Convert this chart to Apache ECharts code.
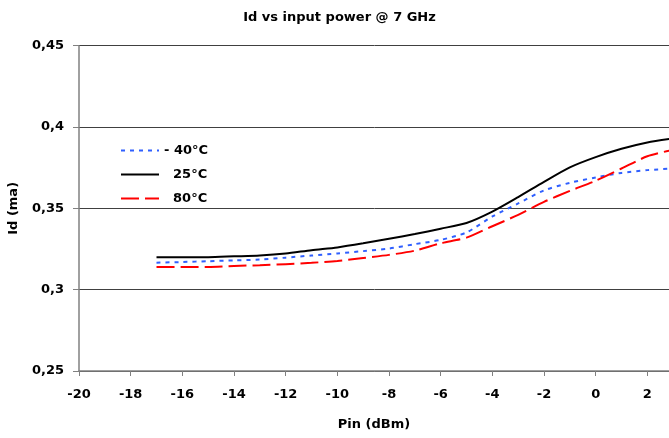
<!DOCTYPE html>
<html>
<head>
<meta charset="utf-8">
<script src="https://cdn.jsdelivr.net/npm/echarts@6/dist/echarts.min.js"></script>
<style>
html,body{margin:0;padding:0;background:#fff;}
#chart{width:669px;height:438px;}
</style>
</head>
<body>
<div id="chart"></div>
<script>
// Data
const pinDbm = [-17, -16, -15, -14, -13, -12, -11, -10, -9, -8, -7, -6, -5, -4, -3, -2, -1, 0, 1, 2, 3];
const idMinus40 = [0.3166, 0.317, 0.3175, 0.318, 0.3185, 0.3197, 0.321, 0.3223, 0.3237, 0.3253, 0.328, 0.3306, 0.3352, 0.345, 0.353, 0.361, 0.3657, 0.369, 0.3718, 0.3735, 0.3745];
const id25 = [0.320, 0.320, 0.320, 0.3205, 0.321, 0.3222, 0.3243, 0.326, 0.3285, 0.3313, 0.3342, 0.3375, 0.341, 0.348, 0.3569, 0.3663, 0.3752, 0.3815, 0.3866, 0.3905, 0.393];
const id80 = [0.314, 0.314, 0.314, 0.3146, 0.315, 0.3157, 0.3165, 0.3177, 0.3195, 0.3214, 0.324, 0.3285, 0.332, 0.339, 0.346, 0.354, 0.3607, 0.367, 0.3745, 0.382, 0.386];
const seriesNames = ['- 40°C', '25°C', '80°C'];
const titleText = 'Id vs input power @ 7 GHz';
const xAxisName = 'Pin (dBm)';
const yAxisName = 'Id (ma)';

function pairs(xs, ys) { return xs.map((x, i) => [x, ys[i]]); }

const chart = echarts.init(document.getElementById('chart'), null, {renderer: 'canvas'});
const font = '"DejaVu Sans", sans-serif';
const txt = {fontFamily: font, fontSize: 13, fontWeight: 'bold', color: '#000'};
chart.setOption({
  animation: false,
  backgroundColor: '#ffffff',
  title: {
    text: titleText,
    left: 334.5, top: 6, textAlign: 'center',
    textStyle: txt
  },
  legend: {
    orient: 'vertical',
    left: 115, top: 139,
    itemWidth: 38, itemHeight: 12, itemGap: 11,
    data: seriesNames,
    itemStyle: {opacity: 0},
    formatter: n => n.charAt(0) === '-' ? n : '\u00a0\u00a0' + n,
    textStyle: txt
  },
  grid: {left: 79, top: 45.7, right: -30, bottom: 67, outerBoundsMode: 'none', containLabel: false},
  xAxis: {
    type: 'value', min: -20, max: 4, interval: 2,
    name: xAxisName, nameLocation: 'middle', nameGap: 47,
    nameTextStyle: Object.assign({padding: [0, 30, 0, 0]}, txt),
    axisLine: {show: true, onZero: false, lineStyle: {color: '#808080', width: 1.5}},
    axisTick: {show: true, length: 5, lineStyle: {color: '#808080'}},
    axisLabel: Object.assign({margin: 17}, txt),
    splitLine: {show: false}
  },
  yAxis: {
    type: 'value', min: 0.25, max: 0.45, interval: 0.05,
    name: yAxisName, nameLocation: 'middle', nameGap: 59, nameRotate: 90,
    nameTextStyle: txt,
    axisLine: {show: true, onZero: false, lineStyle: {color: '#808080', width: 1.5}},
    axisTick: {show: true, inside: false, length: 6, lineStyle: {color: '#808080'}},
    axisLabel: Object.assign({
      margin: 15,
      formatter: v => String(Number(v.toFixed(2))).replace('.', ',')
    }, txt),
    splitLine: {show: true, lineStyle: {color: '#404040', width: 1}}
  },
  series: [
    {name: seriesNames[0], type: 'line', data: pairs(pinDbm, idMinus40), symbol: 'none', smooth: 0.25,
     lineStyle: {color: '#2f5fff', width: 2, type: [4, 5]}, itemStyle: {color: '#2f5fff'}},
    {name: seriesNames[1], type: 'line', data: pairs(pinDbm, id25), symbol: 'none', smooth: 0.25,
     lineStyle: {color: '#000000', width: 2, type: 'solid'}, itemStyle: {color: '#000000'}},
    {name: seriesNames[2], type: 'line', data: pairs(pinDbm, id80), symbol: 'none', smooth: 0.25,
     lineStyle: {color: '#ff0000', width: 2, type: [18, 6]}, itemStyle: {color: '#ff0000'}}
  ]
});
</script>
</body>
</html>
